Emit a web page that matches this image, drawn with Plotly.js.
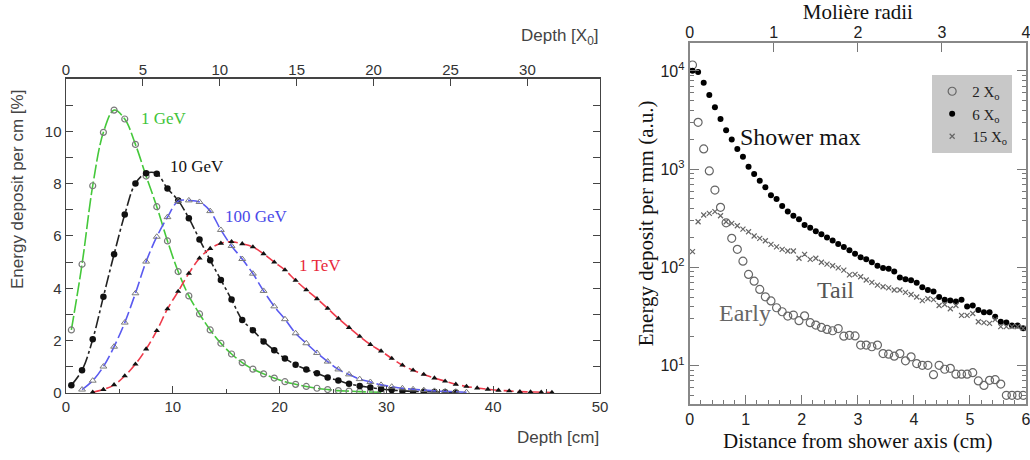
<!DOCTYPE html>
<html><head><meta charset="utf-8">
<script src="https://cdn.plot.ly/plotly-3.0.1.min.js"></script>
<style>html,body{margin:0;padding:0;background:#fff}#chart{width:1030px;height:460px}</style>
</head><body><div id="chart"></div>
<script>
// ---------- Left panel: longitudinal profiles (Depth [cm] vs energy deposit per cm [%]) ----------
const depth1GeV = [0.5,1.5,2.5,3.5,4.5,5.5,6.5,7.5,8.5,9.5,10.5,11.5,12.5,13.5,14.5,15.5,16.5,17.5,18.5,19.5,20.5,21.5,22.5,23.5,24.5,25.5,26.5,27.5,28.5,29.5];
const dep1GeV = [2.41,4.92,7.92,9.96,10.81,10.47,9.50,8.29,7.12,5.81,4.64,3.71,3.02,2.41,1.90,1.49,1.16,0.91,0.73,0.57,0.43,0.33,0.25,0.18,0.13,0.09,0.07,0.05,0.04,0.03];

const depth10GeV = [0.5,1.5,2.5,3.5,4.5,5.5,6.5,7.5,8.5,9.5,10.5,11.5,12.5,13.5,14.5,15.5,16.5,17.5,18.5,19.5,20.5,21.5,22.5,23.5,24.5,25.5,26.5,27.5,28.5,29.5,30.5,31.5,32.5,33.5,34.5,35.5,36.5];
const dep10GeV = [0.30,0.87,2.05,3.68,5.30,6.82,8.01,8.40,8.38,7.81,7.36,6.68,5.87,5.07,4.32,3.57,2.79,2.40,1.97,1.63,1.32,1.08,0.90,0.75,0.59,0.48,0.35,0.27,0.21,0.15,0.11,0.08,0.06,0.05,0.04,0.03,0.02];

const depth100GeV = [1.5,2.5,3.5,4.5,5.5,6.5,7.5,8.5,9.5,10.5,11.5,12.5,13.5,14.5,15.5,16.5,17.5,18.5,19.5,20.5,21.5,22.5,23.5,24.5,25.5,26.5,27.5,28.5,29.5,30.5,31.5,32.5,33.5,34.5,35.5,36.5,37.5];
const dep100GeV = [0.13,0.47,1.01,1.77,2.69,3.81,5.02,5.97,6.72,7.33,7.36,7.30,6.95,6.23,5.62,5.12,4.56,3.90,3.31,2.82,2.28,1.90,1.53,1.20,0.90,0.71,0.53,0.42,0.31,0.24,0.18,0.14,0.11,0.08,0.06,0.05,0.03];

const depth1TeV = [2.5,3.5,4.5,5.5,6.5,7.5,8.5,9.5,10.5,11.5,12.5,13.5,14.5,15.5,16.5,17.5,18.5,19.5,20.5,21.5,22.5,23.5,24.5,25.5,26.5,27.5,28.5,29.5,30.5,31.5,32.5,33.5,34.5,35.5,36.5,37.5,38.5,39.5,40.5,41.5,42.5,43.5,44.5,45.5];
const dep1TeV = [0.03,0.13,0.31,0.65,1.10,1.68,2.38,3.21,3.88,4.57,5.15,5.52,5.72,5.78,5.70,5.58,5.32,5.00,4.70,4.30,3.94,3.60,3.23,2.85,2.50,2.16,1.85,1.60,1.32,1.06,0.87,0.71,0.57,0.45,0.33,0.25,0.19,0.14,0.10,0.08,0.05,0.04,0.03,0.02];

const leftYTicks = [0,2,4,6,8,10];
const depthX0Range = [0, 34.72];   // top axis: 50 cm in radiation lengths

// ---------- Right panel: lateral profiles (distance from shower axis, cm) ----------
const distance = [0.05,0.15,0.25,0.35,0.45,0.55,0.65,0.75,0.85,0.95,1.05,1.15,1.25,1.35,1.45,1.55,1.65,1.75,1.85,1.95,
  2.05,2.15,2.25,2.35,2.45,2.55,2.65,2.75,2.85,2.95,3.05,3.15,3.25,3.35,3.45,3.55,3.65,3.75,3.85,3.95,
  4.05,4.15,4.25,4.35,4.45,4.55,4.65,4.75,4.85,4.95,5.05,5.15,5.25,5.35,5.45,5.55,5.65,5.75,5.85,5.95];
const early2X0 = [11500,3000,1610,960,614,409,285,198,153,116,85,72.6,59.8,50.3,45.7,38.9,35.4,32,32.8,28.7,
  32.2,27.4,25.9,24.5,23.4,22.7,23.9,20,20.4,20.1,16.2,16.2,15.6,16.2,13.3,13.1,12.5,13.3,11.2,12.3,
  10.5,10.1,10.1,8.1,10.1,9.2,9.4,8.2,8.2,8.2,8.5,7.0,6.3,7.1,7.2,6.5,5.0,5.0,5.0,5.0];
const max6X0 = [10070,9770,7600,5700,4270,3240,2490,2010,1610,1340,1060,893,764,654,542,497,422,372,336,309,
  270,253,234,218,202,188,173,162,150,138,127,121,113,104,99,97,91,79,76,74,
  70,63,59,57,50,47,46,45,47,40,41,37,35,35,31.5,28,27.6,25.7,25.7,24];
const tail15X0 = [145,292,342,355,370,336,292,281,266,246,231,209,198,187,172,162,153,147,147,124,
  136,121,124,113,108,104,99,94,84,85,80.5,74.5,70.5,66,63.6,62,59,59,55.7,53,
  50,46,48,47,41,42,38,41,32.5,32.5,34,28,27.4,27,29.4,25,25,25,25,24];
const moliereRange = [0, 4];        // top axis: 6 cm in Molière radii
const logTickVals = [10, 100, 1000, 10000];
const logTickText = ['10<sup>1</sup>', '10<sup>2</sup>', '10<sup>3</sup>', '10<sup>4</sup>'];

const SANS = 'Liberation Sans, Arial, sans-serif';
const SERIF = 'Liberation Serif, Times New Roman, serif';

const traces = [
  {x: depth1GeV, y: dep1GeV, xaxis:'x', yaxis:'y', mode:'lines+markers', showlegend:false, name:'1 GeV',
   line:{color:'#44c83a', width:1.6, dash:'14px,3px', shape:'spline'},
   marker:{symbol:'circle-open', size:6, color:'#7a7a7a', line:{width:1.2}}},
  {x: depth10GeV, y: dep10GeV, xaxis:'x', yaxis:'y', mode:'lines+markers', showlegend:false, name:'10 GeV',
   line:{color:'#222222', width:1.6, dash:'12px,3px,3px,3px', shape:'spline'},
   marker:{symbol:'circle', size:6.5, color:'#111'}},
  {x: depth100GeV, y: dep100GeV, xaxis:'x', yaxis:'y', mode:'lines+markers', showlegend:false, name:'100 GeV',
   line:{color:'#5a5af0', width:1.6, dash:'12px,4px', shape:'spline'},
   marker:{symbol:'triangle-up-open', size:6, color:'#7a7a7a', line:{width:1}}},
  {x: depth1TeV, y: dep1TeV, xaxis:'x', yaxis:'y', mode:'lines+markers', showlegend:false, name:'1 TeV',
   line:{color:'#ee3a4a', width:1.6, dash:'10px,4px', shape:'spline'},
   marker:{symbol:'triangle-up', size:5.5, color:'#111'}},
  // empty traces so the secondary (top) axes get a subplot and are drawn
  {x: [], y: [], xaxis:'x3', yaxis:'y', mode:'markers', showlegend:false, hoverinfo:'skip'},
  {x: [], y: [], xaxis:'x4', yaxis:'y2', mode:'markers', showlegend:false, hoverinfo:'skip'},

  {x: distance, y: early2X0, xaxis:'x2', yaxis:'y2', mode:'markers', name:'2 X<sub>o</sub>',
   marker:{symbol:'circle-open', size:8, color:'#666', line:{width:1.2}}},
  {x: distance, y: max6X0, xaxis:'x2', yaxis:'y2', mode:'markers', name:'6 X<sub>o</sub>',
   marker:{symbol:'circle', size:6, color:'#000'}},
  {x: distance, y: tail15X0, xaxis:'x2', yaxis:'y2', mode:'markers', name:'15 X<sub>o</sub>',
   marker:{symbol:'x-thin-open', size:5, color:'#666', line:{width:1.2}}}
];

const leftTick = {family:SANS, size:15, color:'#333'};
const rightTick = {family:SANS, size:16, color:'#222'};

const layout = {
  width:1030, height:460,
  margin:{l:0, r:0, t:0, b:0},
  paper_bgcolor:'#fff', plot_bgcolor:'#fff',
  showlegend:true,
  legend:{x:0.905, y:0.837, xanchor:'left', yanchor:'top', bgcolor:'#c8c8c8', borderwidth:0,
          font:{family:SERIF, size:15, color:'#222'}, itemwidth:30, tracegroupgap:0},
  xaxis:{domain:[0.0641,0.5825], anchor:'y', range:[0,50], dtick:10, ticks:'inside', ticklen:7,
         tickcolor:'#444', linecolor:'#444', linewidth:1.5, mirror:true, showgrid:false, zeroline:false,
         tickfont:leftTick, minor:{ticks:'inside', ticklen:4, dtick:5, tickcolor:'#444'}},
  yaxis:{domain:[0.1457,0.8283], anchor:'x', range:[0,12], tickvals:leftYTicks, ticks:'inside', ticklen:7,
         tickcolor:'#444', linecolor:'#444', linewidth:1.5, mirror:'ticks', showgrid:false, zeroline:false,
         tickfont:leftTick, minor:{ticks:'inside', ticklen:7, dtick:1, tickcolor:'#444'}},
  xaxis3:{overlaying:'x', side:'top', anchor:'y', range:depthX0Range, dtick:5, ticks:'inside', ticklen:7,
          tickcolor:'#444', showline:false, showgrid:false, zeroline:false, tickfont:leftTick},

  xaxis2:{domain:[0.6696,0.9961], anchor:'y2', range:[0,6], dtick:1, ticks:'inside', ticklen:9,
          tickcolor:'#777', linecolor:'#888', linewidth:2, mirror:true, showgrid:false, zeroline:false,
          ticklabeloverflow:'allow', tickfont:rightTick,
          minor:{ticks:'inside', ticklen:4, dtick:0.2, tickcolor:'#777'},
          title:{text:'Distance from shower axis (cm)', font:{family:SERIF, size:21, color:'#111'}, standoff:6}},
  yaxis2:{domain:[0.1217,0.9072], anchor:'x2', type:'log', range:[0.61,4.288],
          tickvals:logTickVals, ticktext:logTickText, ticks:'inside', ticklen:9, tickcolor:'#777',
          linecolor:'#888', linewidth:2, mirror:'ticks', showgrid:false, zeroline:false, tickfont:rightTick,
          minor:{ticks:'inside', ticklen:4, dtick:'D1', tickcolor:'#777'},
          title:{text:'Energy deposit per mm (a.u.)', font:{family:SERIF, size:21, color:'#111'}, standoff:1}},
  xaxis4:{overlaying:'x2', side:'top', anchor:'y2', range:moliereRange, dtick:1, ticks:'inside', ticklen:9,
          tickcolor:'#777', showline:false, showgrid:false, zeroline:false, tickfont:rightTick,
          ticklabeloverflow:'allow',
          title:{text:'Molière radii', font:{family:SERIF, size:21, color:'#111'}, standoff:4}},

  annotations:[
    {xref:'paper', yref:'paper', x:18/1030, y:0.587, text:'Energy deposit per cm [%]', textangle:-90,
     showarrow:false, xanchor:'center', yanchor:'middle', font:{family:SANS, size:17, color:'#444'}},
    {xref:'paper', yref:'paper', x:0.5835, y:0.05, text:'Depth [cm]', showarrow:false,
     xanchor:'right', yanchor:'middle', font:{family:SANS, size:17, color:'#444'}},
    {xref:'paper', yref:'paper', x:0.5835, y:0.9196, text:'Depth [X<sub>0</sub>]', showarrow:false,
     xanchor:'right', yanchor:'middle', font:{family:SANS, size:17, color:'#444'}},
    {xref:'x', yref:'y', x:6.8, y:10.48, text:'1 GeV', showarrow:false, xanchor:'left', yanchor:'middle',
     font:{family:SERIF, size:17, color:'#3fc43a'}},
    {xref:'x', yref:'y', x:9.56, y:8.64, text:'10 GeV', showarrow:false, xanchor:'left', yanchor:'middle',
     font:{family:SERIF, size:17, color:'#111'}},
    {xref:'x', yref:'y', x:14.7, y:6.75, text:'100 GeV', showarrow:false, xanchor:'left', yanchor:'middle',
     font:{family:SERIF, size:17, color:'#4a4ae8'}},
    {xref:'x', yref:'y', x:21.6, y:4.88, text:'1 TeV', showarrow:false, xanchor:'left', yanchor:'middle',
     font:{family:SERIF, size:17, color:'#e8283a'}},
    {xref:'x2', yref:'y2', x:0.86, y:3.328, text:'Shower max', showarrow:false, xanchor:'left', yanchor:'middle',
     font:{family:SERIF, size:24, color:'#111'}},
    {xref:'x2', yref:'y2', x:2.24, y:1.77, text:'Tail', showarrow:false, xanchor:'left', yanchor:'middle',
     font:{family:SERIF, size:24, color:'#555'}},
    {xref:'x2', yref:'y2', x:0.48, y:1.533, text:'Early', showarrow:false, xanchor:'left', yanchor:'middle',
     font:{family:SERIF, size:24, color:'#666'}}
  ]
};

Plotly.newPlot('chart', traces, layout, {staticPlot:true, displayModeBar:false});
</script></body></html>
